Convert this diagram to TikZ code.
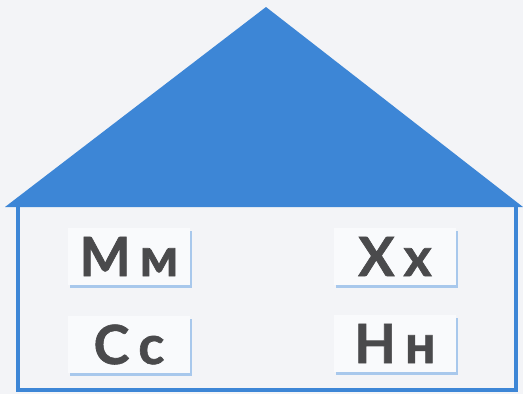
\documentclass[tikz,border=0pt]{standalone}
\usepackage{fontspec}
\setmainfont{Lato}[BoldFeatures={FakeBold=1.2}]
\usetikzlibrary{shadows}
\definecolor{roofblue}{HTML}{3D86D6}
\definecolor{bgcol}{HTML}{F3F4F7}
\definecolor{boxfill}{HTML}{F9FAFC}
\definecolor{shadowblue}{HTML}{A8C8EC}
\definecolor{letter}{HTML}{4A4A4C}
\tikzset{
  letterbox/.style={fill=boxfill, minimum width=122pt, minimum height=57pt, inner sep=0pt,
    text=letter, font=\fontsize{54}{54}\selectfont\bfseries,
    drop shadow={shadow xshift=2pt, shadow yshift=-2.5pt, fill=shadowblue, opacity=1}},
  wall/.style={draw=roofblue, line width=4.5pt}
}
\begin{document}
\begin{tikzpicture}[x=1pt,y=-1pt]
\useasboundingbox (0,0) rectangle (523,394);
\fill[bgcol] (0,0) rectangle (523,394);
\coordinate (apex) at (266,7);
\coordinate (rl) at (5,207);
\coordinate (rr) at (523,207);
\coordinate (wtl) at (18,205);
\coordinate (wbl) at (18,390);
\coordinate (wbr) at (516,390);
\coordinate (wtr) at (516,205);
\draw[wall] (wtl) -- (wbl) -- (wbr) -- (wtr);
\fill[roofblue] (apex) -- (rl) -- (rr) -- cycle;
\node[letterbox] (mm) at (129,256.5) {М\hspace{9pt}м};
\node[letterbox] (xx) at (395,256.5) {Х\hspace{9pt}х};
\node[letterbox] (cc) at (129,344.5) {С\hspace{9pt}с};
\node[letterbox] (nn) at (395,343.5) {Н\hspace{9pt}н};
\end{tikzpicture}
\end{document}
